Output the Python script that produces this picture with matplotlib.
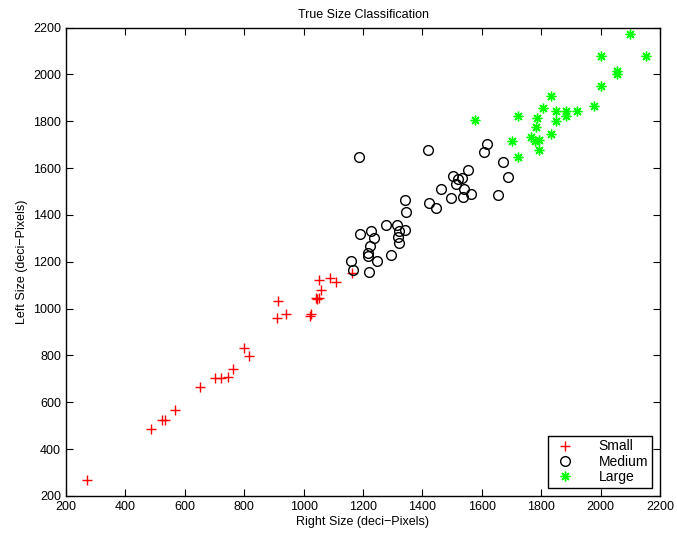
import matplotlib
matplotlib.use("Agg")
import matplotlib.pyplot as plt

# Right size (x) / Left size (y) in deci-pixels
small_x = [270, 485, 523, 532, 567, 652, 701, 723, 747, 763, 800, 816, 910, 914, 940,
           1021, 1026, 1042, 1046, 1052, 1059, 1052, 1089, 1109, 1162]
small_y = [267, 485, 525, 525, 565, 666, 702, 703, 710, 741, 831, 796, 958, 1032, 976,
           970, 979, 1045, 1040, 1046, 1079, 1123, 1129, 1115, 1152]

medium_x = [1159, 1167, 1220, 1248, 1216, 1218, 1225, 1238, 1227, 1190, 1278, 1295, 1314,
            1321, 1343, 1318, 1321, 1345, 1343, 1421, 1445, 1188, 1419, 1617, 1607, 1673,
            1688, 1654, 1552, 1502, 1520, 1533, 1513, 1540, 1563, 1538, 1497, 1462]
medium_y = [1202, 1165, 1158, 1205, 1224, 1237, 1268, 1301, 1332, 1317, 1357, 1230, 1357,
            1331, 1334, 1305, 1280, 1411, 1462, 1451, 1430, 1648, 1677, 1702, 1670, 1625,
            1563, 1486, 1592, 1565, 1552, 1558, 1531, 1511, 1491, 1476, 1472, 1509]

large_x = [1576, 1722, 1703, 1723, 1764, 1779, 1794, 1791, 1783, 1787, 1805, 1834, 1833,
           1849, 1850, 1884, 1884, 1919, 1977, 2002, 2003, 2056, 2056, 2098, 2153]
large_y = [1803, 1646, 1716, 1821, 1734, 1716, 1719, 1679, 1774, 1814, 1857, 1909, 1746,
           1801, 1843, 1844, 1823, 1843, 1864, 1950, 2078, 2016, 2002, 2172, 2079]

plt.rcParams['font.family'] = ['Liberation Sans', 'DejaVu Sans']

fig = plt.figure(figsize=(6.77, 5.37), dpi=100)
ax = fig.add_axes([66/677, 1 - 496/537, (660 - 66)/677, (496 - 27.5)/537])

ax.plot(small_x, small_y, '+', color='red', ms=7, mew=1.0, label='Small')
ax.plot(medium_x, medium_y, 'o', mfc='none', mec='black', ms=7, mew=1.0, label='Medium')
# matlab style asterisk (plus overlaid with x)
ax.plot(large_x, large_y, linestyle='none', marker=(8, 2, 0), color='#00ff00',
        ms=7, mew=1.0, label='Large')

ax.set_xlim(200, 2200)
ax.set_ylim(200, 2200)
ax.set_xticks(range(200, 2201, 200))
ax.set_yticks(range(200, 2201, 200))
ax.tick_params(direction='in', top=True, right=True, length=5, labelsize=9, width=0.8)
for s in ax.spines.values():
    s.set_linewidth(1.0)

ax.set_xlabel('Right Size (deci\u2212Pixels)', fontsize=9, labelpad=2)
ax.set_ylabel('Left Size (deci\u2212Pixels)', fontsize=9, labelpad=4)
ax.set_title('True Size Classification', fontsize=9, pad=7)

leg = ax.legend(loc='lower right', fontsize=10, fancybox=False, edgecolor='black',
                framealpha=1, borderpad=0.25, labelspacing=0.1, handletextpad=1.4,
                borderaxespad=0.6)
leg.get_frame().set_linewidth(1.0)

fig.savefig('out.png', dpi=100)
